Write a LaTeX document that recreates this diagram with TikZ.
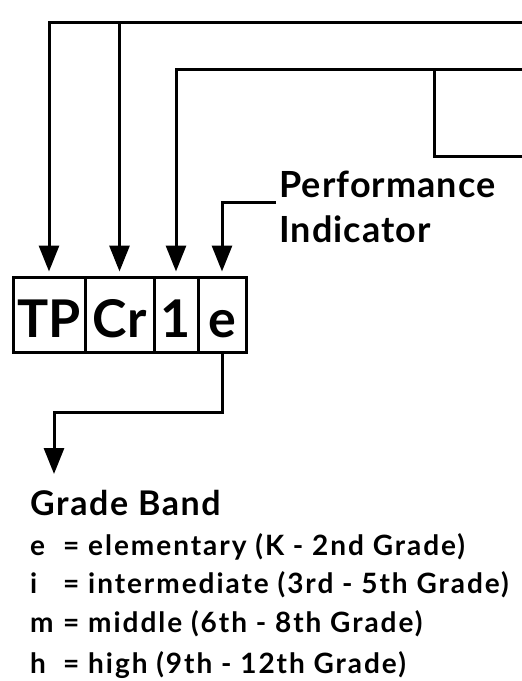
\documentclass[tikz,border=0pt]{standalone}
\usepackage{fontspec}
\setmainfont{Lato}
\usetikzlibrary{arrows.meta}
\begin{document}
\begin{tikzpicture}[x=1pt,y=-1pt,
  conn/.style={line width=3pt},
  arr/.style={conn,-{Triangle[width=20pt,length=26pt]},shorten >=4pt},
  cell/.style={draw,line width=3pt,minimum height=75pt,inner sep=0pt,text height=45pt,text depth=0pt,font=\fontsize{52}{52}\selectfont\bfseries},
  lbl/.style={anchor=base west,inner sep=0pt,font=\fontsize{36}{36}\selectfont\bfseries\addfontfeature{LetterSpace=3}},
  head/.style={anchor=base west,inner sep=0pt,font=\fontsize{34}{34}\selectfont\bfseries\addfontfeature{LetterSpace=4.7}},
  item/.style={anchor=base west,inner sep=0pt,font=\fontsize{28}{28}\selectfont\bfseries\addfontfeature{LetterSpace=7}}]
\useasboundingbox (0,0) rectangle (522,681);
% code cells
\node[cell,minimum width=72pt] (tp) at (49,314.5) {TP};
\node[cell,minimum width=69pt] (cr) at (119.5,314.5) {Cr};
\node[cell,minimum width=44pt] (one) at (176,314.5) {1};
\node[cell,minimum width=48pt] (e) at (222,314.5) {e};
% free ends
\coordinate (a1) at (522,22);
\coordinate (a2) at (522,69);
\coordinate (a3) at (522,156);
\coordinate (b) at (434,69);
\coordinate (p) at (276,202);
\coordinate (gt) at (54,478);
% connectors
\draw[arr] (a1) -| (tp.north);
\draw[arr] (cr.north |- a1) -- (cr.north);
\draw[arr] (a2) -| (one.north);
\draw[conn] (a3) -| (b);
\draw[arr] (p) -| (e.north);
\draw[arr] (e.south) -- ++(0,59) -| (gt);
% labels
\node[lbl] (perf) at (279,197) {Performance};
\node[lbl] (ind) at (279,242) {Indicator};
\node[head] (gb) at (30,515) {Grade Band};
\node[item] (le) at (30,555) {\makebox[33pt][l]{e}= elementary (K - 2nd Grade)};
\node[item] (li) at (30,593) {\makebox[33pt][l]{i}= intermediate (3rd - 5th Grade)};
\node[item] (lm) at (30,632) {\makebox[33pt][l]{m}= middle (6th - 8th Grade)};
\node[item] (lh) at (30,673) {\makebox[33pt][l]{h}= high (9th - 12th Grade)};
\end{tikzpicture}
\end{document}
